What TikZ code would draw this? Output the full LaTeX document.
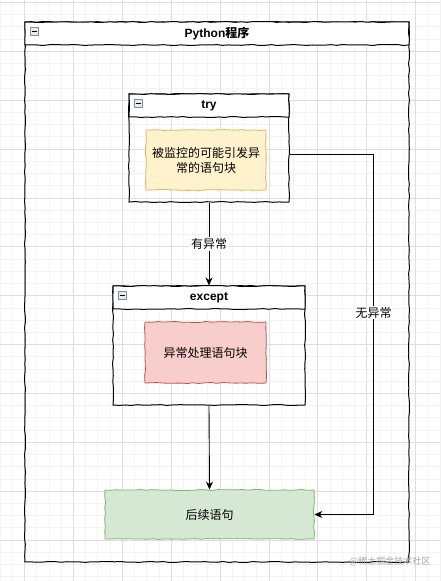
\documentclass[tikz,border=0pt]{standalone}
\usepackage{fontspec}
\setmainfont{Liberation Sans}
\newfontfamily\cjk{Noto Sans CJK SC}
\usetikzlibrary{decorations.pathmorphing,arrows.meta}
\definecolor{gridminor}{HTML}{F3F3F3}
\definecolor{gridmajor}{HTML}{DEDEDE}
\definecolor{yfill}{HTML}{FFF2CC}\definecolor{yline}{HTML}{D6B656}
\definecolor{rfill}{HTML}{F8CECC}\definecolor{rline}{HTML}{B85450}
\definecolor{gfill}{HTML}{D5E8D4}\definecolor{gline}{HTML}{82B366}
\definecolor{iconc}{HTML}{7F8FA0}\definecolor{iconf}{HTML}{E4EAF0}
\tikzset{
  sketch/.style={decorate,decoration={random steps,segment length=6pt,amplitude=0.5pt}},
  container/.style={draw=black,line width=1pt,sketch,inner sep=0pt},
  titlebar/.style={fill=white,draw=black,line width=1pt,sketch,inner sep=0pt},
  block/.style={line width=0.8pt,sketch,inner sep=2pt,align=center,font=\cjk\fontsize{12}{15}\selectfont},
  ttl/.style={font=\bfseries\fontsize{12}{14}\selectfont},
  icon/.style={draw=iconc,fill=iconf,line width=0.6pt,minimum size=8pt,inner sep=0pt},
  arr/.style={line width=0.9pt,-{Stealth[length=8pt,width=7pt]}},
  lbl/.style={fill=white,inner sep=1pt,font=\cjk\fontsize{12}{14}\selectfont}
}
\begin{document}
\pgfmathsetseed{7}
\begin{tikzpicture}[x=1pt,y=-1pt]
\useasboundingbox (0,0) rectangle (440,581);
\fill[white] (0,0) rectangle (440,581);
\foreach \i in {0,...,36} {\draw[gridminor,line width=0.8pt] (12.22*\i+0.1,0) -- (12.22*\i+0.1,581);}
\foreach \i in {0,...,48} {\draw[gridminor,line width=0.8pt] (0,12.22*\i+2.4) -- (440,12.22*\i+2.4);}
\foreach \i in {0,...,8} {\draw[gridmajor,line width=0.8pt] (48.88*\i+24.5,0) -- (48.88*\i+24.5,581);}
\foreach \i in {0,...,11} {\draw[gridmajor,line width=0.8pt] (0,48.88*\i+2.4) -- (440,48.88*\i+2.4);}
% outer container
\node[container,minimum width=384pt,minimum height=540pt] (outer) at (217,292) {};
\node[titlebar,minimum width=384pt,minimum height=23pt] (outerbar) at (217,33.5) {};
\node[ttl] (outert) at (217,34) {Python{\cjk 程序}};
\node[icon] (outeri) at (34,31.5) {};
\draw[line width=0.9pt] ([xshift=-2.5pt]outeri.center) -- ([xshift=2.5pt]outeri.center);
% try container
\node[container,minimum width=160pt,minimum height=108pt] (try) at (209,148) {};
\node[titlebar,minimum width=160pt,minimum height=23pt] (trybar) at (209,105.5) {};
\node[ttl] (tryt) at (209,105.5) {try};
\node[icon] (tryi) at (138,103.5) {};
\draw[line width=0.9pt] ([xshift=-2.5pt]tryi.center) -- ([xshift=2.5pt]tryi.center);
\node[block,draw=yline,fill=yfill,minimum width=120pt,minimum height=60pt] (body) at (206,160) {被监控的可能引发异\\常的语句块};
% except container
\node[container,minimum width=192pt,minimum height=119pt] (exc) at (209,345.5) {};
\node[titlebar,minimum width=192pt,minimum height=23pt] (excbar) at (209,297.5) {};
\node[ttl] (exct) at (209,297.5) {except};
\node[icon] (exci) at (122,295.5) {};
\draw[line width=0.9pt] ([xshift=-2.5pt]exci.center) -- ([xshift=2.5pt]exci.center);
\node[block,draw=rline,fill=rfill,minimum width=121pt,minimum height=61pt] (handler) at (205.5,352.5) {异常处理语句块};
% following statements
\node[block,draw=gline,fill=gfill,minimum width=209pt,minimum height=49pt] (after) at (209.5,514.5) {后续语句};
% connectors
\draw[arr] (try.south) -- node[lbl] (l1) {有异常} (exc.north);
\draw[arr] (exc.south) -- (after.north);
\draw[arr] ([yshift=-6pt]try.east) -- ++(84,0) |- node[lbl,pos=0.22] (l2) {无异常} (after.east);
% watermark
\node[font=\cjk\fontsize{9}{11}\selectfont,text=black!35] (wm) at (390,561) {@稀土掘金技术社区};
\end{tikzpicture}
\end{document}
